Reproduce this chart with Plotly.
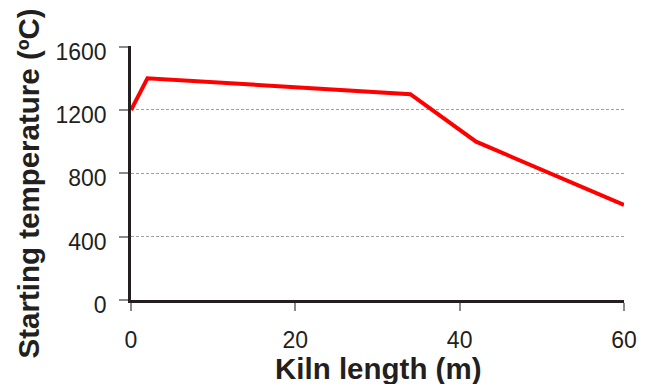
import plotly.graph_objects as go

kiln_length = [0, 2, 34, 42, 60]
temperature = [1200, 1400, 1300, 1000, 600]
x_ticks = [0, 20, 40, 60]
y_ticks = [0, 400, 800, 1200, 1600]

fig = go.Figure()
fig.add_trace(go.Scatter(x=kiln_length, y=temperature, mode="lines",
                         line=dict(color="#ff0000", width=4), showlegend=False))

font_family = "Liberation Sans, Arial, sans-serif"
fig.update_layout(
    template="none",
    width=647, height=384,
    margin=dict(l=131, r=23, t=46, b=84, pad=0),
    plot_bgcolor="white", paper_bgcolor="white",
    font=dict(family=font_family, size=23, color="#231f20"),
)
fig.update_xaxes(
    range=[0, 60], tickvals=x_ticks, showgrid=False, zeroline=False,
    showline=True, linecolor="#231f20", linewidth=2.5, automargin=False,
    ticks="outside", ticklen=8, tickwidth=2, tickcolor="#8a8a8a",
    ticklabelstandoff=10,
)
fig.update_yaxes(
    range=[0, 1604], tickvals=y_ticks, showgrid=True, griddash="3px,2px",
    gridcolor="#a0a0a0", gridwidth=1, zeroline=False,
    showline=True, linecolor="#231f20", linewidth=2.5, automargin=False,
    ticks="outside", ticklen=9, tickwidth=2, tickcolor="#8a8a8a",
    ticklabelstandoff=8, ticklabelshift=5,
)
# axis titles
fig.add_annotation(text="<b>Kiln length (m)</b>", xref="paper", yref="paper",
                   x=0.5, y=0, xanchor="center", yanchor="middle", yshift=-68,
                   showarrow=False, font=dict(size=29.5, color="#231f20"))
fig.add_annotation(text="<b>Starting temperature (ºC)</b>", xref="paper", yref="paper",
                   x=0, y=0.459, xanchor="center", yanchor="middle", xshift=-103,
                   textangle=-90, showarrow=False, font=dict(size=29.5, color="#231f20"))

fig.write_html("out.html", config={"displayModeBar": False},
               post_script="document.body.style.margin='0';")
